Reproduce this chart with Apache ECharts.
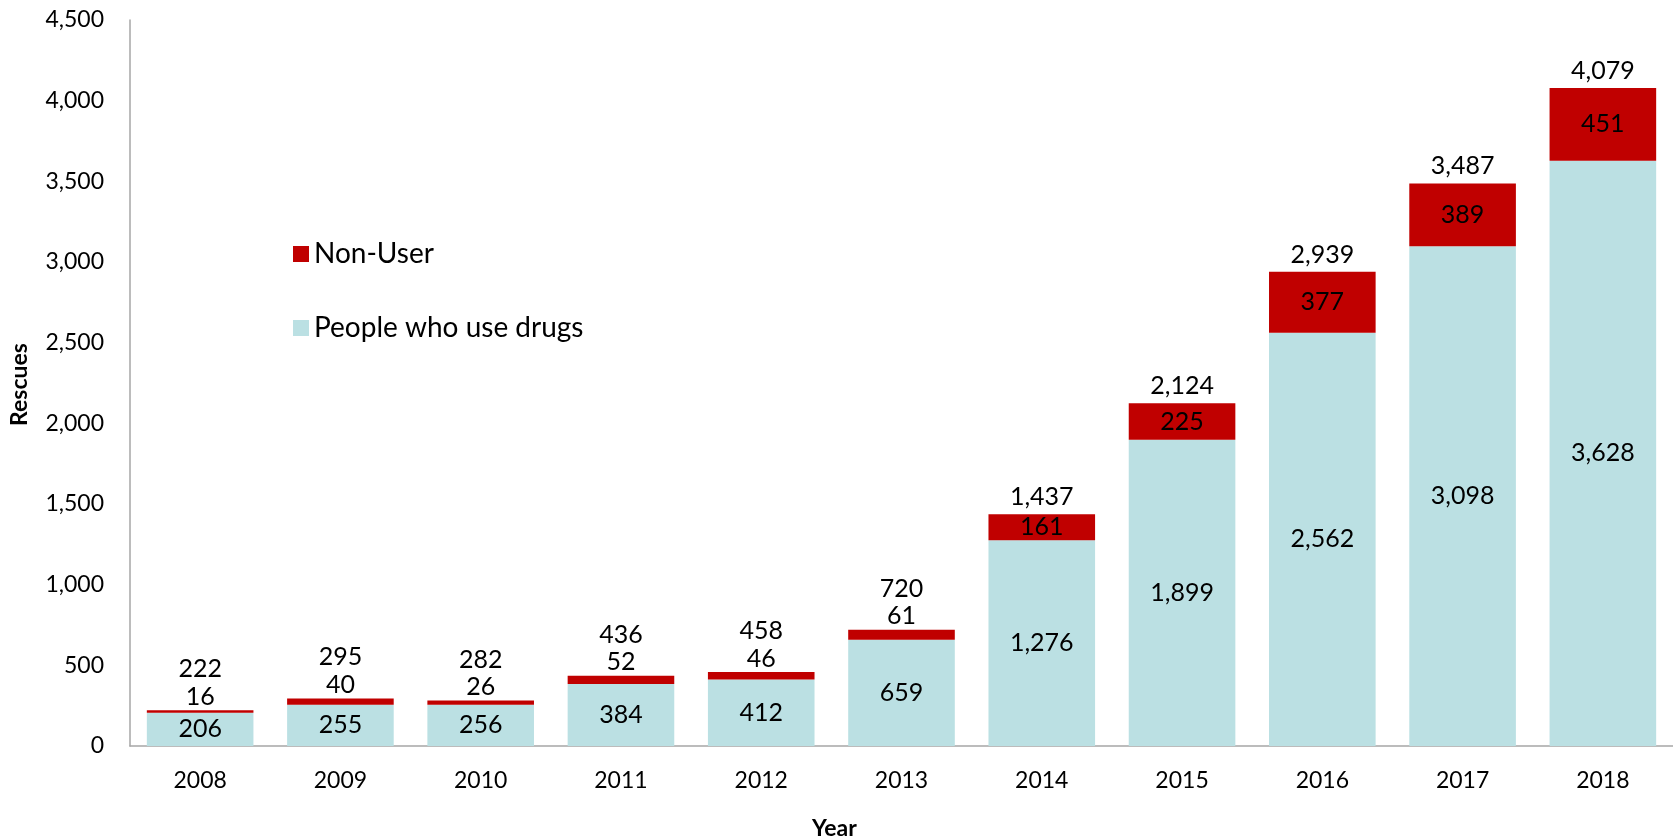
<!DOCTYPE html>
<html>
<head>
<meta charset="utf-8">
<script src="https://cdn.jsdelivr.net/npm/echarts@6/dist/echarts.min.js"></script>
<style>html,body{margin:0;padding:0;background:#fff;}#c{width:1673px;height:840px;}</style>
</head>
<body>
<div id="c"></div>
<script>
const years = ['2008','2009','2010','2011','2012','2013','2014','2015','2016','2017','2018'];
const peopleWhoUseDrugs = [206,255,256,384,412,659,1276,1899,2562,3098,3628];
const nonUser = [16,40,26,52,46,61,161,225,377,389,451];
const totals = [222,295,282,436,458,720,1437,2124,2939,3487,4079];
const yTicks = {min:0, max:4500, interval:500};

const FONT = 'Lato';
const fmt = v => v.toLocaleString('en-US');
const smallCount = 6; // bars whose red segment is too thin for an inside label

const chart = echarts.init(document.getElementById('c'));
chart.setOption({
  animation:false,
  textStyle:{fontFamily:FONT, color:'#000'},
  grid:{left:130, right:0, top:20, bottom:94},
  legend:{
    data:['Non-User','People who use drugs'],
    orient:'vertical', left:288, top:235,
    itemWidth:16, itemHeight:16, itemGap:46,
    icon:'rect',
    textStyle:{fontFamily:FONT, fontSize:28, color:'#000'}
  },
  xAxis:{
    type:'category', data:years,
    axisLine:{lineStyle:{color:'#a6a6a6', width:1.5}},
    axisTick:{show:false},
    axisLabel:{fontFamily:FONT, fontSize:23, color:'#000', margin:23}
  },
  yAxis:{
    type:'value', min:yTicks.min, max:yTicks.max, interval:yTicks.interval,
    axisLine:{show:true, lineStyle:{color:'#a6a6a6', width:1.5}},
    axisTick:{show:false},
    splitLine:{show:false},
    axisLabel:{fontFamily:FONT, fontSize:23, color:'#000', margin:26, formatter:v=>fmt(v)}
  },
  graphic:[
    {type:'text', left:812, top:817, style:{text:'Year', font:'bold 23px '+FONT, fill:'#000'}},
    {type:'text', x:8, y:426, rotation:Math.PI/2, style:{text:'Rescues', font:'bold 23px '+FONT, fill:'#000'}}
  ],
  series:[
    {
      name:'People who use drugs', type:'bar', stack:'s', barCategoryGap:'24%',
      itemStyle:{color:'#BBE0E3'},
      label:{show:true, position:'inside', fontFamily:FONT, fontSize:25, color:'#000', formatter:p=>fmt(p.value)},
      data:peopleWhoUseDrugs
    },
    {
      name:'Non-User', type:'bar', stack:'s',
      itemStyle:{color:'#C00000'},
      label:{show:true, fontFamily:FONT, fontSize:25, color:'#000', formatter:p=>fmt(p.value)},
      data:nonUser.map((v,i)=>({value:v, label: i<smallCount ? {position:'top', distance:1} : {position:'inside'}}))
    },
    {
      name:'Total', type:'scatter', symbolSize:1, silent:true,
      itemStyle:{color:'rgba(0,0,0,0)', opacity:1},
      label:{show:true, position:'top', fontFamily:FONT, fontSize:25, color:'#000', opacity:1, formatter:p=>fmt(p.value[1])},
      data:totals.map((v,i)=>({value:[i,v], label:{distance: i<smallCount ? 28 : 4}}))
    }
  ]
});
</script>
</body>
</html>
